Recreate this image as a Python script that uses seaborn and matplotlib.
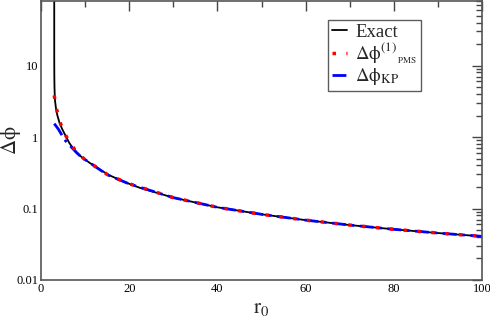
import matplotlib
matplotlib.use("Agg")
import matplotlib.pyplot as plt
import seaborn as sns
import pandas as pd
from matplotlib.ticker import LogLocator, NullFormatter, FixedLocator

# ---- data ----
r_exact = [3.0, 3.005, 3.02, 3.05, 3.1, 3.17, 3.4, 3.7, 4.15, 4.76, 5.5, 6.4, 7.3, 8.8,
           10.7, 13, 15.6, 19, 22.4, 30, 40, 50, 60, 70, 80, 90, 100]
d_exact = [100, 12, 7.5, 5.3, 4.06, 3.27, 2.50, 2.02, 1.62, 1.31, 1.06, 0.83, 0.69, 0.55,
           0.45, 0.36, 0.29, 0.234, 0.195, 0.142, 0.104, 0.083, 0.0688, 0.0587, 0.0512,
           0.0454, 0.0408]

r_pms = [3.0, 3.3, 3.8, 4.4, 5.2, 6.3, 8, 10, 15, 20, 30, 40, 50, 60, 70, 80, 90, 100]
d_pms = [3.83, 2.84, 2.1, 1.56, 1.17, 0.88, 0.62, 0.48, 0.30, 0.222, 0.142, 0.104, 0.083,
         0.0688, 0.0587, 0.0512, 0.0454, 0.0408]

r_kp = [3.0, 3.9, 4.8, 5.6, 7.0, 8.0, 9.2, 11, 15, 20, 30, 40, 50, 60, 70, 80, 90, 100]
d_kp = [1.54, 1.30, 1.05, 0.88, 0.71, 0.61, 0.52, 0.44, 0.297, 0.221, 0.142, 0.104, 0.083,
        0.0688, 0.0587, 0.0512, 0.0454, 0.0408]

x_ticks = [0, 20, 40, 60, 80, 100]
y_ticks = [0.01, 0.1, 1, 10]
y_ticklabels = ["0.01", "0.1", "1", "10"]

sns.set_theme(style="white")
plt.rcParams["font.family"] = ["Liberation Serif", "DejaVu Serif"]
plt.rcParams["mathtext.fontset"] = "stix"

fig = plt.figure(figsize=(4.9, 3.19), dpi=100)
ax = fig.add_axes([41 / 490, 1 - 280 / 319, 441 / 490, 279 / 319])

df_e = pd.DataFrame({"r": r_exact, "d": d_exact})
df_p = pd.DataFrame({"r": r_pms, "d": d_pms})
df_k = pd.DataFrame({"r": r_kp, "d": d_kp})

sns.lineplot(data=df_e, x="r", y="d", ax=ax, color="black", lw=1.3, sort=False,
             label="Exact")
sns.lineplot(data=df_k, x="r", y="d", ax=ax, color="#0000ff", lw=2.0, sort=False,
             label=r"$\mathrm{\Delta\phi_{KP}}$")
ax.lines[-1].set_linestyle((0, (5, 2, 1, 2)))
sns.lineplot(data=df_p, x="r", y="d", ax=ax, color="#ff0000", lw=2.5, sort=False,
             label=r"$\mathrm{\Delta\phi^{(1)}{}_{{}_{PMS}}}$")
ax.lines[-1].set_linestyle((0, (1, 3)))

ax.set_yscale("log")
ax.set_xlim(0, 100)
ax.set_ylim(0.01, 80)

ax.xaxis.set_major_locator(FixedLocator(x_ticks))
ax.xaxis.set_minor_locator(FixedLocator([10, 30, 50, 70, 90]))
ax.set_xticklabels([str(t) for t in x_ticks])
ax.yaxis.set_major_locator(FixedLocator(y_ticks))
ax.set_yticklabels(y_ticklabels)
ax.yaxis.set_minor_locator(LogLocator(base=10, subs=range(2, 10)))
ax.yaxis.set_minor_formatter(NullFormatter())

ax.tick_params(which="both", direction="in", top=True, right=True, color="#444444",
               labelsize=9, labelcolor="black", pad=2)
ax.tick_params(which="major", length=7, width=1)
ax.tick_params(which="minor", length=4, width=1)
for s in ax.spines.values():
    s.set_color("#555555")
    s.set_linewidth(1.2)

ax.set_xlabel(r"$\mathrm{r_0}$", fontsize=15)
ax.set_ylabel(r"$\mathrm{\Delta\phi}$", fontsize=15)
ax.xaxis.set_label_coords(0.5, -0.068)
ax.yaxis.set_label_coords(-0.041, 0.5)

h, l = ax.get_legend_handles_labels()
order = [0, 2, 1]
leg = ax.legend([h[i] for i in order], [l[i] for i in order],
                loc="upper left", bbox_to_anchor=(287 / 441, 1 - 19 / 279),
                fontsize=13.5, frameon=True, fancybox=False, handlelength=0.8,
                handletextpad=0.45, borderpad=0.2, labelspacing=0.0, borderaxespad=0)
leg.get_frame().set_edgecolor("#333333")
leg.get_frame().set_linewidth(1.0)

fig.savefig("out.png", dpi=100)
